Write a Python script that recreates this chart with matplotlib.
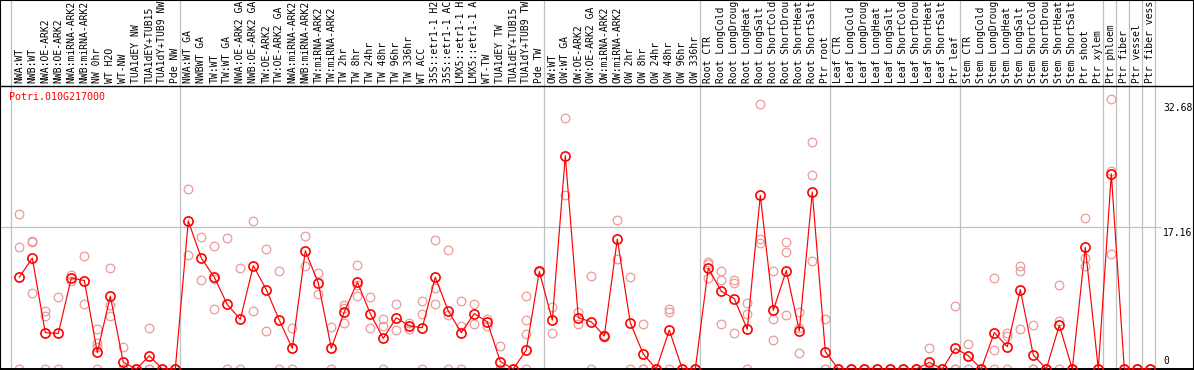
"""
expression profile of one poplar gene across sample sets
"""

import numpy as np
import matplotlib
matplotlib.use("Agg")
import matplotlib.pyplot as plt
import matplotlib.transforms as mtransforms

# data
#-------------------
gene_id = "Potri.010G217000"

sample_labels = [
    "NWA:WT", "NWB:WT", "NWA:OE-ARK2", "NWB:OE-ARK2", "NWA:miRNA-ARK2",
    "NWB:miRNA-ARK2", "NW 0hr", "WT H2O", "WT-NW", "TUA1dEY NW",
    "TUA1dEY+TUB15 NW", "TUA1dY+TUB9 NW", "Pde NW",
    "NWA:WT GA", "NWBWT GA", "TW:WT", "TW:WT GA", "NWA:OE-ARK2 GA",
    "NWB:OE-ARK2 GA", "TW:OE-ARK2", "TW:OE-ARK2 GA", "NWA:miRNA-ARK2 GA",
    "NWB:miRNA-ARK2 GA", "TW:miRNA-ARK2", "TW:miRNA-ARK2 GA", "TW 2hr",
    "TW 8hr", "TW 24hr", "TW 48hr", "TW 96hr", "TW 336hr", "WT ACC",
    "35S::etr1-1 H2O", "35S::etr1-1 ACC", "LMX5::etr1-1 H2O", "LMX5::etr1-1 ACC",
    "WT-TW", "TUA1dEY TW", "TUA1dEY+TUB15 TW", "TUA1dY+TUB9 TW", "Pde TW",
    "OW:WT", "OW:WT GA", "OW:OE-ARK2", "OW:OE-ARK2 GA", "OW:miRNA-ARK2",
    "OW:miRNA-ARK2 GA", "OW 2hr", "OW 8hr", "OW 24hr", "OW 48hr", "OW 96hr",
    "OW 336hr",
    "Root CTR", "Root LongCold", "Root LongDrought", "Root LongHeat",
    "Root LongSalt", "Root ShortCold", "Root ShortDrought", "Root ShortHeat",
    "Root ShortSalt", "Ptr root",
    "Leaf CTR", "Leaf LongCold", "Leaf LongDrought", "Leaf LongHeat",
    "Leaf LongSalt", "Leaf ShortCold", "Leaf ShortDrought", "Leaf ShortHeat",
    "Leaf ShortSalt", "Ptr leaf",
    "Stem CTR", "Stem LongCold", "Stem LongDrought", "Stem LongHeat",
    "Stem LongSalt", "Stem ShortCold", "Stem ShortDrought", "Stem ShortHeat",
    "Stem ShortSalt", "Ptr shoot", "Ptr xylem",
    "Ptr phloem", "Ptr fiber", "Ptr vessel", "Ptr fiber vessel",
]

mean_expr = [
    11.1, 13.4, 4.4, 4.3, 11.0, 10.7, 2.0, 8.8, 0.8, 0.0, 1.6, 0.0, 0.0,
    17.9, 13.4, 11.1, 7.8, 6.0, 12.5, 9.6, 5.9, 2.5, 14.3, 10.4, 2.5, 6.9,
    10.5, 6.7, 3.7, 6.2, 5.2, 5.0, 11.1, 7.0, 4.4, 6.7, 5.7, 0.9, 0.0, 2.3,
    11.8,
    5.9, 25.8, 6.2, 5.7, 4.0, 15.7, 5.6, 1.8, 0.0, 4.7, 0.0, 0.0,
    12.2, 9.4, 8.5, 4.8, 21.0, 7.1, 11.9, 4.6, 21.4, 2.1,
    0.0, 0.0, 0.0, 0.0, 0.0, 0.0, 0.0, 0.8, 0.0, 2.5,
    1.6, 0.0, 4.4, 2.7, 9.6, 1.7, 0.0, 5.3, 0.0, 14.7, 0.0,
    23.6, 0.0, 0.0, 0.0,
]

replicate_expr = [
    [18.7, 14.8, 0], [15.5, 15.4, 9.2], [7.0, 6.4, 0], [8.7, 0],
    [11.4, 10.6], [13.7, 7.9], [4.8, 3.1, 2.7, 0], [12.2, 7.7, 6.4],
    [2.7, 0, 0], [0, 0, 0], [5.0, 0, 0], [0, 0], [0, 0],
    [21.8, 13.8], [16.0, 10.8], [14.9, 10.9, 7.3], [15.8, 0], [12.2, 0],
    [17.9, 7.0], [14.5, 4.6], [11.9, 0], [5.0, 0], [16.1, 12.5],
    [11.6, 9.1], [5.1, 0], [7.7, 7.4, 5.6], [12.6, 10.1, 8.8], [8.7, 5.0],
    [6.1, 5.2, 0], [7.8, 4.7], [5.6, 4.8], [8.2, 6.6, 0], [15.6, 9.8, 7.9],
    [14.4, 6.5, 0], [8.2, 5.2, 0], [7.9, 5.5], [6.0, 5.2], [2.8, 0, 0],
    [0, 0], [8.8, 5.9, 4.2, 0], [11.9, 11.7],
    [7.5, 4.4], [30.4, 21.1], [6.9, 5.5], [11.3, 0], [4.1, 3.9],
    [18.0, 13.3], [11.1, 0], [5.4, 0, 0], [0, 0], [7.3, 6.9, 0], [0, 0],
    [0, 0],
    [12.9, 12.7, 11.0], [11.8, 10.8, 5.5], [10.8, 10.4, 4.4], [8.0, 6.6, 0],
    [32.0, 15.7, 15.2], [11.9, 6.0, 3.5], [15.4, 14.1, 6.5], [6.9, 5.0, 1.9],
    [27.4, 23.5, 13.1], [6.1, 0, 0],
    [0, 0, 0], [0, 0, 0], [0, 0, 0], [0, 0, 0], [0, 0, 0], [0, 0, 0],
    [0, 0, 0], [2.5, 0, 0], [0, 0, 0], [7.6, 0, 0],
    [3.0, 1.6, 0], [0, 0, 0], [11.0, 2.3, 0], [4.4, 4.0, 0],
    [12.5, 11.8, 4.8], [5.3, 0, 0], [0, 0, 0], [10.2, 5.8, 0], [0, 0, 0],
    [18.2, 13.4, 12.5], [0, 0],
    [32.7, 24.0, 13.9], [0, 0], [0, 0], [0, 0],
]

# first sample of each block, plus the end of the last one
group_starts = [0, 13, 41, 53, 63, 73, 84, 85, 86, 87, 88]
ytick_values = [32.68, 17.16, 0]

# figure
#-------------------
W, H = 1194, 370
HEAD = 86
PITCH = 13.0
X0 = 19.3
SCALE = 8.27      # pixels per unit
ZERO_PX = 369
MAX_CHARS = 14    # header labels are cut to this many characters

fig = plt.figure(figsize=(W / 100, H / 100), dpi=100)
ax = fig.add_axes([0, 0, 1, (H - HEAD) / H])
ax_head = fig.add_axes([0, (H - HEAD) / H, 1, HEAD / H])

xlim = (-X0 / PITCH, (W - X0) / PITCH)
for a in (ax, ax_head):
    a.set_xlim(*xlim)
    a.set_xticks([])
    a.set_yticks([])
    a.patch.set_facecolor("white")

ax.set_ylim(-(H - ZERO_PX) / SCALE, (ZERO_PX - HEAD) / SCALE)
ax_head.set_ylim(0, 1)

mono = "DejaVu Sans Mono"
grid_col = "#c0c0c0"
pale = "#ec9a9a"

# block separators
for g in group_starts:
    for a in (ax, ax_head):
        a.axvline(g - 0.62, color=grid_col, lw=0.9, zorder=1)

ax.axhline(17.16, xmin=0, xmax=1160 / W, color=grid_col, lw=0.9, zorder=1)

# replicates
x = np.arange(len(sample_labels))
for xi, reps in zip(x, replicate_expr):
    ax.plot([xi] * len(reps), reps, "o", mfc="none", mec=pale, ms=6.2,
            mew=0.9, zorder=2, clip_on=False)

# means
ax.plot(x, mean_expr, "-", color="#ff0000", lw=0.85, zorder=3, clip_on=False)
ax.plot(x, mean_expr, "o", mfc="none", mec="#ff0000", ms=6.6, mew=1.2,
        zorder=4, clip_on=False)

# sample labels in the header
trans_head = mtransforms.blended_transform_factory(ax_head.transData, ax_head.transAxes)
for xi, lab in zip(x, sample_labels):
    ax_head.text(xi, 3 / HEAD, lab[:MAX_CHARS].rstrip(), rotation=90,
                 ha="center", va="bottom", family=mono, fontsize=7.0,
                 color="black", transform=trans_head)

# value labels on the right
trans_r = mtransforms.blended_transform_factory(ax.transAxes, ax.transData)
for v in ytick_values:
    if v == 0:
        t = mtransforms.offset_copy(trans_r, fig=fig, y=3, units="dots")
        va = "bottom"
    elif v == max(ytick_values):
        t = mtransforms.offset_copy(trans_r, fig=fig, y=-4, units="dots")
        va = "top"
    else:
        t = mtransforms.offset_copy(trans_r, fig=fig, y=-1, units="dots")
        va = "top"
    ax.text(1163 / W, v, f"{v:g}", ha="left", va=va, family=mono,
            fontsize=7.0, color="black", transform=t)

ax.text(9 / W, 1 - 6 / (H - HEAD), gene_id, ha="left", va="top", family=mono,
        fontsize=7.2, color="#ff0000", transform=ax.transAxes)

# frame
for s in ("left", "right", "bottom"):
    ax.spines[s].set_color("black")
ax.spines["top"].set_visible(False)
ax.spines["left"].set_linewidth(1.5)
ax.spines["right"].set_linewidth(1.5)
ax.spines["bottom"].set_linewidth(1.4)
ax.spines["bottom"].set_position(("data", 0))
for s in ("left", "right", "top", "bottom"):
    ax_head.spines[s].set_color("black")
    ax_head.spines[s].set_linewidth(1.5)
ax_head.spines["bottom"].set_linewidth(1.0)

fig.savefig("out.png", dpi=100)
